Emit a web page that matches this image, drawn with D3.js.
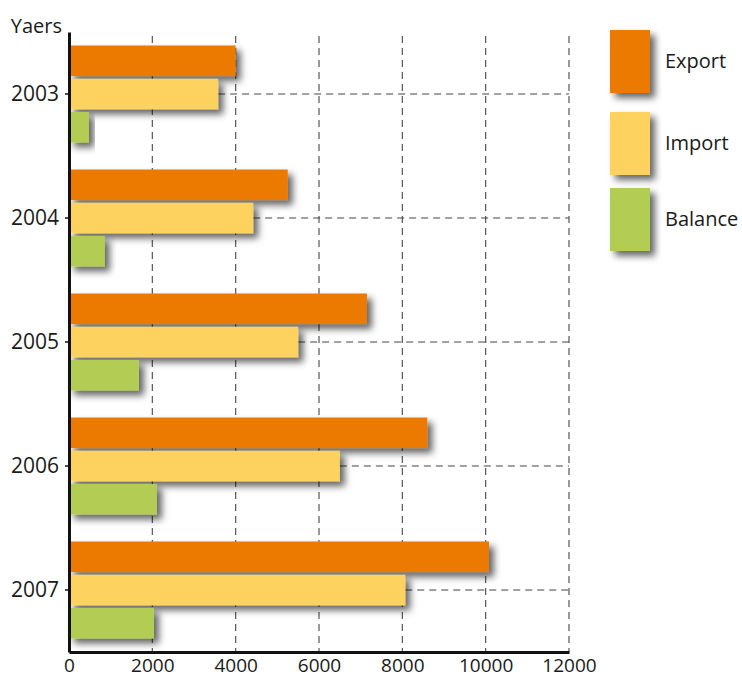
<!DOCTYPE html>
<html>
<head>
<meta charset="utf-8">
<script src="https://cdn.jsdelivr.net/npm/d3@7/dist/d3.min.js"></script>
<style>
  html, body { margin: 0; padding: 0; background: #fff; }
  svg { display: block; }
  text { font-family: "Open Sans", "DejaVu Sans", sans-serif; fill: #1a1a1a; }
</style>
</head>
<body>
<svg id="chart" width="742" height="682"></svg>
<script>
// Trade figures per year
const years = ["2003", "2004", "2005", "2006", "2007"];
const seriesNames = ["Export", "Import", "Balance"];
const exportValues = [4000, 5250, 7150, 8600, 10080];
const importValues = [3580, 4420, 5500, 6500, 8070];
const balanceValues = [480, 860, 1680, 2110, 2040];
const xTicks = [0, 2000, 4000, 6000, 8000, 10000, 12000];
const seriesColors = ["#ED7A00", "#FED25F", "#B3CC52"];

const svg = d3.select("#chart");

// Soft drop shadow used by bars and legend swatches
const defs = svg.append("defs");
const shadow = defs.append("filter").attr("id", "shadow")
  .attr("x", "-20%").attr("y", "-40%").attr("width", "150%").attr("height", "200%");
shadow.append("feDropShadow")
  .attr("dx", 5).attr("dy", 5).attr("stdDeviation", 3.5)
  .attr("flood-color", "#000").attr("flood-opacity", 0.6);

const plotLeft = 69, plotRight = 569, plotTop = 32, plotBottom = 652;

const x = d3.scaleLinear().domain([0, 12000]).range([plotLeft, plotRight]);
const y = d3.scaleBand().domain(years).range([plotTop, plotBottom]).padding(0);
const inner = d3.scaleBand().domain(seriesNames)
  .range([y.bandwidth() / 2 - 48.5, y.bandwidth() / 2 + 48.5])
  .paddingInner(0.08);

const rows = years.map((yr, i) => ({
  year: yr,
  values: [exportValues[i], importValues[i], balanceValues[i]]
}));

// Vertical dashed grid lines
svg.append("g").selectAll("line")
  .data(xTicks.slice(1))
  .join("line")
  .attr("x1", d => x(d)).attr("x2", d => x(d))
  .attr("y1", plotTop + 4).attr("y2", plotBottom)
  .attr("stroke", "#555").attr("stroke-width", 1.2)
  .attr("stroke-dasharray", "7,5");

// Horizontal dashed guides at each Import bar, from its end to the right edge
svg.append("g").selectAll("line")
  .data(rows)
  .join("line")
  .attr("x1", d => x(d.values[1]))
  .attr("x2", plotRight)
  .attr("y1", d => y(d.year) + inner("Import") + inner.bandwidth() / 2)
  .attr("y2", d => y(d.year) + inner("Import") + inner.bandwidth() / 2)
  .attr("stroke", "#444").attr("stroke-width", 1.2)
  .attr("stroke-dasharray", "7,5");

// Bars
const groups = svg.append("g").selectAll("g")
  .data(rows)
  .join("g")
  .attr("transform", d => `translate(0,${y(d.year)})`);

groups.selectAll("rect")
  .data(d => d.values.map((v, j) => ({ name: seriesNames[j], value: v, color: seriesColors[j] })))
  .join("rect")
  .attr("x", x(0))
  .attr("y", d => inner(d.name))
  .attr("width", d => x(d.value) - x(0))
  .attr("height", inner.bandwidth())
  .attr("fill", d => d.color)
  .attr("filter", "url(#shadow)");

// Axes
const xAxis = d3.axisBottom(x).tickValues(xTicks).tickSize(0).tickSizeOuter(0)
  .tickPadding(7).tickFormat(d3.format("d"));
const gx = svg.append("g").attr("transform", `translate(0,${plotBottom})`).call(xAxis);
gx.select(".domain").attr("stroke", "#111").attr("stroke-width", 3);
gx.selectAll(".tick text").style("font-size", "19px").attr("fill", "#1a1a1a")
  .style("font-family", "'Open Sans', sans-serif");

const yAxis = d3.axisLeft(y).tickSize(4).tickSizeOuter(0).tickPadding(6);
const gy = svg.append("g").attr("transform", `translate(${plotLeft},0)`).call(yAxis);
gy.select(".domain").attr("stroke", "#111").attr("stroke-width", 3);
gy.selectAll(".tick line").attr("stroke", "#111").attr("stroke-width", 1.5);
gy.selectAll(".tick text").style("font-size", "21px").attr("fill", "#1a1a1a")
  .style("font-family", "'Open Sans', sans-serif");

// Axis title
svg.append("text")
  .attr("x", 62).attr("y", 33)
  .attr("text-anchor", "end")
  .style("font-size", "20px")
  .text("Yaers");

// Legend
const legend = svg.append("g").selectAll("g")
  .data(seriesNames)
  .join("g")
  .attr("transform", (d, i) => `translate(610,${[30, 112, 188][i]})`);

legend.append("rect")
  .attr("width", 40).attr("height", 63)
  .attr("fill", (d, i) => seriesColors[i])
  .attr("filter", "url(#shadow)");

legend.append("text")
  .attr("x", 55).attr("y", 33)
  .attr("dominant-baseline", "middle")
  .style("font-size", "20px")
  .text(d => d);
</script>
</body>
</html>
